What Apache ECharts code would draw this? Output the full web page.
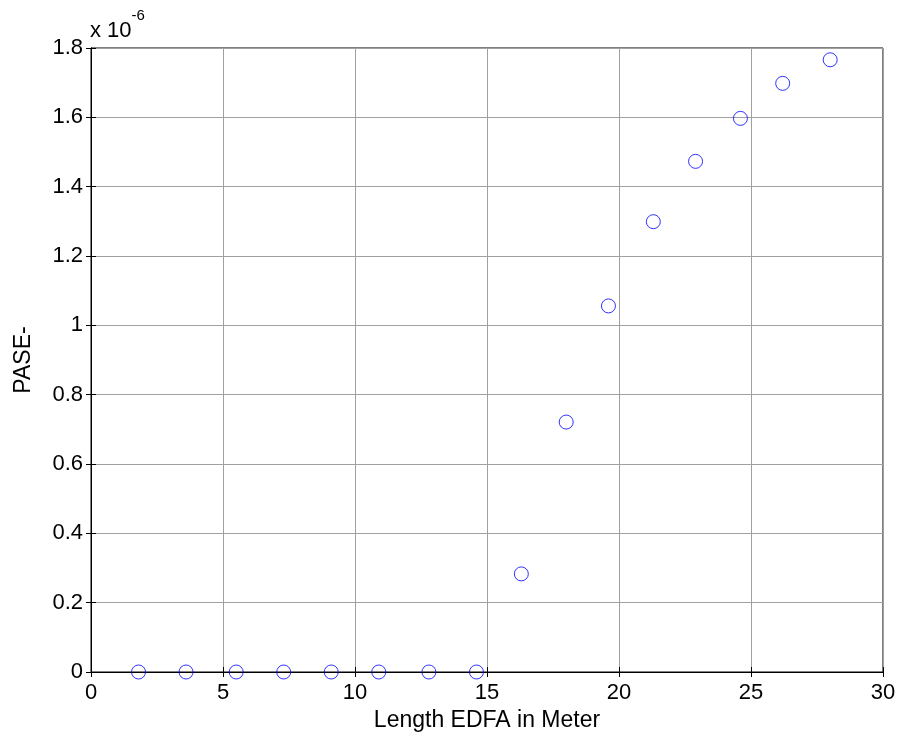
<!DOCTYPE html>
<html>
<head>
<meta charset="utf-8">
<script src="https://cdn.jsdelivr.net/npm/echarts@6/dist/echarts.min.js"></script>
<style>
  html, body { margin: 0; padding: 0; background: #fff; }
  #chart { width: 902px; height: 740px; }
</style>
</head>
<body>
<div id="chart"></div>
<script>
// EDFA length (m)
const lengths = [1.8, 3.6, 5.5, 7.3, 9.1, 10.9, 12.8, 14.6, 16.3, 18.0, 19.6, 21.3, 22.9, 24.6, 26.2, 28.0]
// PASE- in units of 1e-6
const pase = [0, 0, 0, 0, 0, 0, 0, 0, 0.283, 0.721, 1.056, 1.299, 1.473, 1.597, 1.698, 1.766]
const xTicks = [0, 5, 10, 15, 20, 25, 30]
const yTicks = [0, 0.2, 0.4, 0.6, 0.8, 1, 1.2, 1.4, 1.6, 1.8]

const font = 'Liberation Sans, Arial, sans-serif'
const chart = echarts.init(document.getElementById('chart'))

const tickStyle = { show: true, inside: true, length: 5, lineStyle: { color: '#000', width: 1 } }
const gridLine = { show: true, lineStyle: { color: '#a0a0a0', width: 1 } }

const option = {
  animation: false,
  backgroundColor: '#fff',
  grid: {
    left: 91, right: 19, top: 48, bottom: 68,
    show: true, borderColor: '#000', borderWidth: 1
  },
  graphic: [{
    type: 'text',
    left: 90,
    top: 8,
    style: {
      text: '{a|x 10}{b|-6}',
      rich: {
        a: { fontFamily: font, fontSize: 22, fill: '#000', verticalAlign: 'bottom', padding: [12, 0, 0, 0] },
        b: { fontFamily: font, fontSize: 15, fill: '#000', verticalAlign: 'top' }
      }
    }
  }],
  xAxis: [{
    type: 'value',
    min: xTicks[0], max: xTicks[xTicks.length - 1], interval: 5,
    name: 'Length EDFA in Meter',
    nameLocation: 'middle',
    nameGap: 37,
    nameTextStyle: { fontFamily: font, fontSize: 23, color: '#000', verticalAlign: 'top' },
    axisLine: { show: true, lineStyle: { color: '#000', width: 1 } },
    axisTick: tickStyle,
    axisLabel: { fontFamily: font, fontSize: 22, color: '#000', margin: 10 },
    splitLine: gridLine
  }, {
    type: 'value', position: 'top',
    min: xTicks[0], max: xTicks[xTicks.length - 1], interval: 5,
    axisLine: { show: true, lineStyle: { color: '#000' } },
    axisTick: tickStyle,
    axisLabel: { show: false },
    splitLine: { show: false }
  }],
  yAxis: [{
    type: 'value',
    min: yTicks[0], max: yTicks[yTicks.length - 1], interval: 0.2,
    name: 'PASE-',
    nameLocation: 'middle',
    nameGap: 56,
    nameTextStyle: { fontFamily: font, fontSize: 23, color: '#000' },
    axisLine: { show: true, lineStyle: { color: '#000', width: 1 } },
    axisTick: tickStyle,
    axisLabel: {
      fontFamily: font, fontSize: 22, color: '#000', margin: 8,
      formatter: v => String(Math.round(v * 10) / 10)
    },
    splitLine: gridLine
  }, {
    type: 'value', position: 'right',
    min: yTicks[0], max: yTicks[yTicks.length - 1], interval: 0.2,
    axisLine: { show: true, lineStyle: { color: '#000' } },
    axisTick: tickStyle,
    axisLabel: { show: false },
    splitLine: { show: false }
  }],
  series: [{
    type: 'scatter',
    xAxisIndex: 0,
    yAxisIndex: 0,
    data: lengths.map((x, i) => [x, pase[i]]),
    symbol: 'circle',
    symbolSize: 14,
    itemStyle: { color: 'rgba(0,0,0,0)', borderColor: '#0000ff', borderWidth: 1 },
    clip: false
  }]
}

chart.setOption(option)
</script>
</body>
</html>
